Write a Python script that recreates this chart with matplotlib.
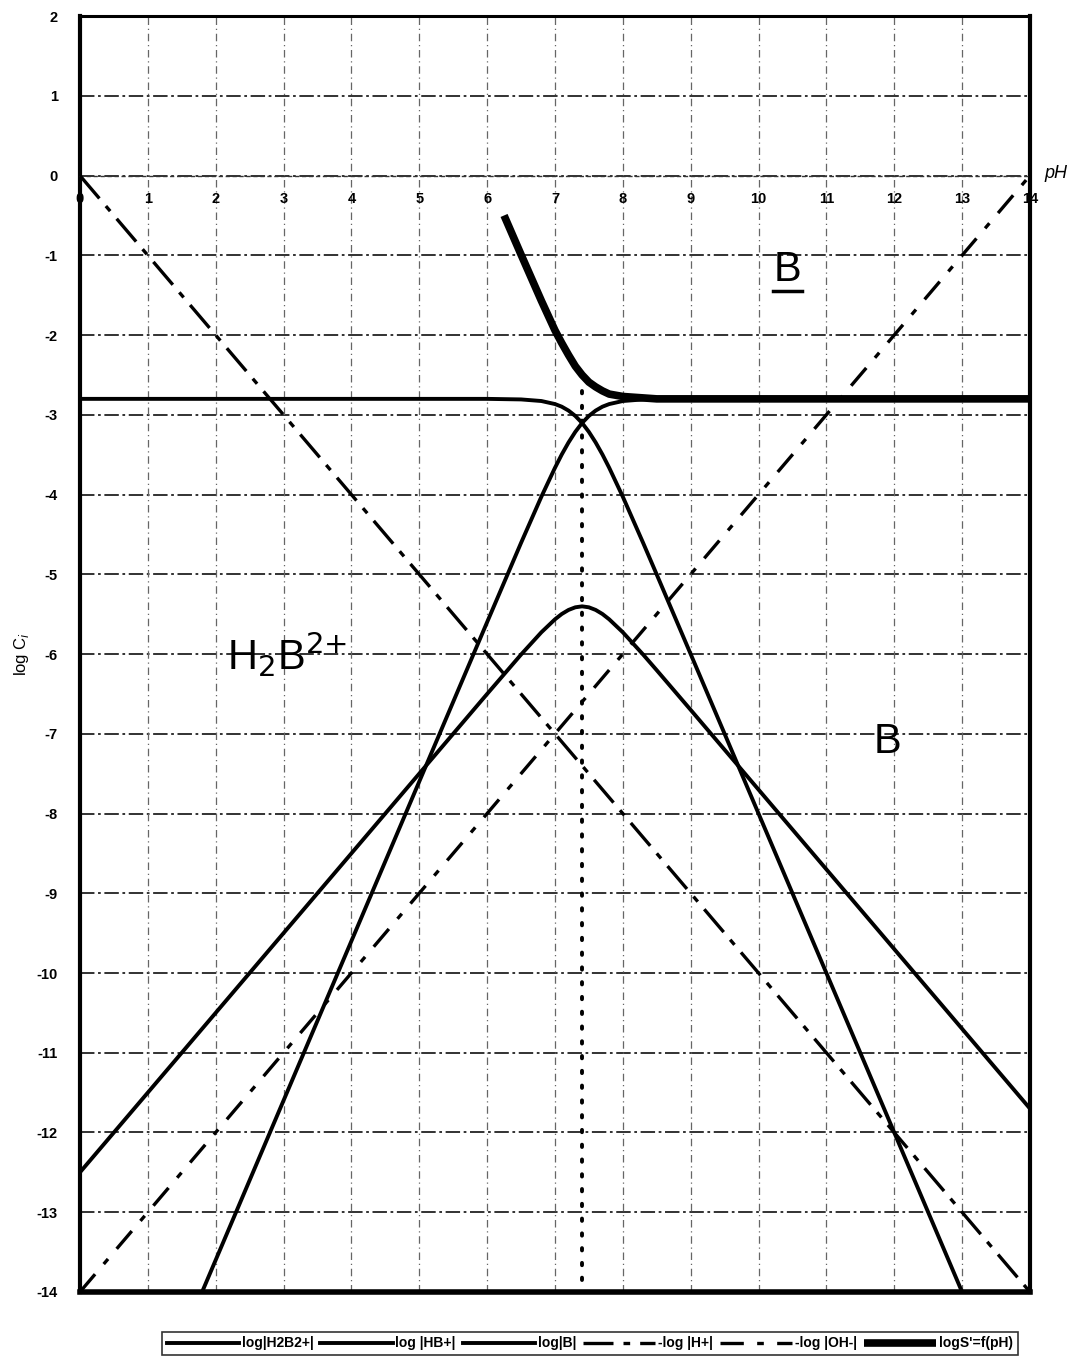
import matplotlib
matplotlib.use('Agg')
import matplotlib.pyplot as plt

plt.rcParams['font.family'] = ['Liberation Sans', 'DejaVu Sans']

# pH grid for the species curves
ph = [0, 1, 2, 3, 4, 5, 6, 6.5, 6.8, 7, 7.1, 7.2, 7.3, 7.4, 7.5, 7.6, 7.7,
      7.8, 8, 8.3, 8.5, 9, 10, 11, 12, 13, 14]

log_h2b = [-2.8, -2.8, -2.8, -2.8, -2.8, -2.8, -2.80, -2.807, -2.827, -2.865,
           -2.898, -2.947, -3.014, -3.102, -3.214, -3.347, -3.498, -3.665,
           -4.027, -4.607, -5.003, -6.0, -8.0, -10.0, -12.0, -14.0, -16.0]

log_hb = [-12.5, -11.5, -10.5, -9.5, -8.5, -7.5, -6.501, -6.007, -5.727, -5.565,
          -5.498, -5.447, -5.414, -5.402, -5.414, -5.447, -5.498, -5.565,
          -5.727, -6.007, -6.203, -6.7, -7.7, -8.7, -9.7, -10.7, -11.7]

log_b = [-17.6, -15.6, -13.6, -11.6, -9.6, -7.6, -5.601, -4.607, -4.027, -3.665,
         -3.498, -3.347, -3.214, -3.102, -3.014, -2.947, -2.898, -2.865,
         -2.827, -2.807, -2.803, -2.8, -2.8, -2.8, -2.8, -2.8, -2.8]

# solubility curve
ph_s = [6.25, 6.5, 6.8, 7.0, 7.1, 7.2, 7.3, 7.4, 7.5, 7.6, 7.7, 7.8, 8.0, 8.5,
        9, 10, 11, 12, 13, 14]
log_s = [-0.50, -0.99, -1.57, -1.94, -2.10, -2.25, -2.39, -2.50, -2.59, -2.65,
         -2.70, -2.74, -2.77, -2.80, -2.80, -2.80, -2.80, -2.80, -2.80, -2.80]

# water lines
ph_w = [0, 14]
log_h = [0, -14]
log_oh = [-14, 0]

ph_eq = 7.4

fig = plt.figure(figsize=(10.76, 13.65), dpi=100)
fig.set_facecolor('white')
ax = fig.add_axes([0.0743, 0.0535, 0.8829, 0.9347])

ax.set_xlim(0, 14)
ax.set_ylim(-14, 2)

# grid
for y in range(-13, 2):
    ax.axhline(y, color='#222222', lw=1.3, ls=(0, (8, 2, 1.5, 2)), zorder=1)
for x in range(1, 14):
    ax.axvline(x, color='#666666', lw=0.9, ls=(0, (6, 3, 1, 3)), zorder=1)

lw = 2.8
ax.plot(ph, log_h2b, color='black', lw=lw, label='log|H2B2+|', zorder=3)
ax.plot(ph, log_hb, color='black', lw=lw, label='log |HB+|', zorder=3)
ax.plot(ph, log_b, color='black', lw=lw, label='log|B|', zorder=3)
ax.plot(ph_w, log_h, color='black', lw=2.4, ls=(0, (9, 3, 2, 3)),
        label='-log |H+|', zorder=3)
ax.plot(ph_w, log_oh, color='black', lw=2.4, ls=(0, (7, 4, 2, 4)),
        label='-log |OH-|', zorder=3)
ax.plot(ph_s, log_s, color='black', lw=5.5, solid_capstyle='butt',
        label="logS'=f(pH)", zorder=4)

# equivalence line
ax.plot([ph_eq, ph_eq], [-2.7, -14], color='black', lw=2.8,
        ls=(0, (0.6, 3.2)), dash_capstyle='round', zorder=3)

# frame
ax.spines['bottom'].set_position(('data', 0))
ax.spines['bottom'].set_linestyle((0, (2, 3)))
ax.spines['bottom'].set_linewidth(1.0)
ax.spines['bottom'].set_color('#333333')
ax.spines['left'].set_linewidth(3)
ax.spines['right'].set_linewidth(3)
ax.spines['top'].set_linewidth(2.2)
ax.axhline(-14, color='black', lw=4, clip_on=False, zorder=5)

ax.set_xticks(range(0, 15))
ax.set_xticklabels([str(i) for i in range(0, 15)], fontsize=10.5,
                   fontweight='bold')
ax.tick_params(axis='x', length=0, pad=12)
ax.set_yticks(range(-14, 3))
ax.set_yticklabels([str(i) for i in range(-14, 3)], fontsize=10.5,
                   fontweight='bold')
ax.tick_params(axis='y', length=0, pad=16)
ax.set_ylabel('log C$_i$', fontsize=12)
ax.yaxis.set_label_coords(-0.052, 0.5)

ax.text(14.22, 0.02, 'pH', fontsize=13, style='italic', ha='left',
        va='center', clip_on=False)

# species labels
ax.text(10.43, -1.18, 'B', fontsize=30, ha='center', va='center')
ax.plot([10.22, 10.64], [-1.45, -1.45], color='black', lw=2.5)
ax.text(3.05, -6.0, r'H$_2$B$^{2{+}}$', fontsize=30, ha='center', va='center')
ax.text(11.9, -7.1, 'B', fontsize=30, ha='center', va='center')

leg = fig.legend(loc='lower center', bbox_to_anchor=(0.548, 0.002), ncol=6,
                 frameon=True, fancybox=False, edgecolor='black',
                 handlelength=5.2, handletextpad=0.2, columnspacing=0.5,
                 borderpad=0.35, prop={'size': 10, 'weight': 'bold'})
leg.get_frame().set_linewidth(1.2)

fig.savefig('out.png', dpi=100)
